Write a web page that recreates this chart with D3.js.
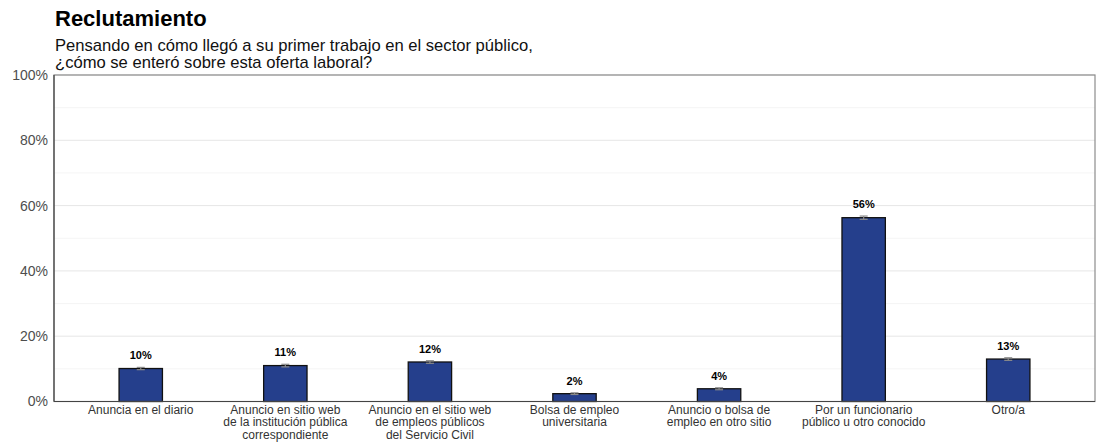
<!DOCTYPE html>
<html>
<head>
<meta charset="utf-8">
<script src="https://cdn.jsdelivr.net/npm/d3@7"></script>
<style>
  html, body { margin: 0; padding: 0; background: #fff; }
  svg { display: block; font-family: "Liberation Sans", Arial, sans-serif; }
</style>
</head>
<body>
<svg id="chart" width="1102" height="442"></svg>
<script>
// Categories (each label split into its display lines)
const categories = [
  ["Anuncia en el diario"],
  ["Anuncio en sitio web", "de la institución pública", "correspondiente"],
  ["Anuncio en el sitio web", "de empleos públicos", "del Servicio Civil"],
  ["Bolsa de empleo", "universitaria"],
  ["Anuncio o bolsa de", "empleo en otro sitio"],
  ["Por un funcionario", "público u otro conocido"],
  ["Otro/a"]
];
// Share of respondents (%)
const values = [10.1, 11.0, 12.1, 2.4, 3.9, 56.3, 13.0];
// Half-width of the confidence interval (%)
const errors = [0.35, 0.4, 0.4, 0.25, 0.3, 0.5, 0.4];
const yTicks = [0, 20, 40, 60, 80, 100];
const yMinor = [10, 30, 50, 70, 90];

const svg = d3.select("#chart");
const margin = { left: 54, right: 7, top: 75, bottom: 40.5 };
const W = 1102, H = 442;
const x0 = margin.left, x1 = W - margin.right;
const y0 = H - margin.bottom, y1 = margin.top;

// Title and subtitle
svg.append("text").attr("x", 55).attr("y", 26)
  .attr("font-size", 22).attr("font-weight", "bold").attr("fill", "#000")
  .text("Reclutamiento");
svg.append("text").attr("x", 55).attr("y", 50.5)
  .attr("font-size", 16.6).attr("fill", "#111")
  .text("Pensando en cómo llegó a su primer trabajo en el sector público,");
svg.append("text").attr("x", 55).attr("y", 68)
  .attr("font-size", 16.6).attr("fill", "#111")
  .text("¿cómo se enteró sobre esta oferta laboral?");

// Scales: discrete axis with 0.6-band padding on each side
const idx = d3.range(categories.length);
const xLin = d3.scaleLinear().domain([0.4, categories.length + 0.6]).range([x0, x1]);
const xPos = i => xLin(i + 1);
const barW = xLin(1.3) - xLin(1);
const y = d3.scaleLinear().domain([0, 100]).range([y0, y1]);

// Gridlines
svg.append("g").selectAll("line.minor").data(yMinor).join("line")
  .attr("x1", x0).attr("x2", x1)
  .attr("y1", d => y(d)).attr("y2", d => y(d))
  .attr("stroke", "#f2f2f2").attr("stroke-width", 0.8);
svg.append("g").selectAll("line.major").data(yTicks).join("line")
  .attr("x1", x0).attr("x2", x1)
  .attr("y1", d => y(d)).attr("y2", d => y(d))
  .attr("stroke", "#e6e6e6").attr("stroke-width", 1);

// Y axis labels
const yAxis = d3.axisLeft(y).tickValues(yTicks).tickSize(0).tickPadding(6)
  .tickFormat(d => d + "%");
const gy = svg.append("g").attr("transform", `translate(${x0},0)`).call(yAxis);
gy.select(".domain").remove();
gy.selectAll("text").attr("font-size", 14).attr("fill", "#4d4d4d")
  .attr("font-family", "Liberation Sans, Arial, sans-serif");

// Bars
svg.append("g").selectAll("rect").data(idx).join("rect")
  .attr("x", i => xPos(i) - barW / 2)
  .attr("y", i => y(values[i]))
  .attr("width", barW)
  .attr("height", i => y(0) - y(values[i]))
  .attr("fill", "#253f8c")
  .attr("stroke", "#111").attr("stroke-width", 1.3);

// Error bars
const eb = svg.append("g").attr("stroke", "#8a8a8a").attr("stroke-width", 1.2);
idx.forEach(i => {
  const cx = xPos(i), hw = 4;
  const lo = y(values[i] - errors[i]), hi = y(values[i] + errors[i]);
  eb.append("line").attr("x1", cx).attr("x2", cx).attr("y1", lo).attr("y2", hi);
  eb.append("line").attr("x1", cx - hw).attr("x2", cx + hw).attr("y1", lo).attr("y2", lo);
  eb.append("line").attr("x1", cx - hw).attr("x2", cx + hw).attr("y1", hi).attr("y2", hi);
});

// Value labels
svg.append("g").selectAll("text").data(idx).join("text")
  .attr("x", i => xPos(i))
  .attr("y", i => y(values[i] + errors[i]) - 8)
  .attr("text-anchor", "middle")
  .attr("font-size", 11).attr("font-weight", "bold").attr("fill", "#000")
  .text(i => Math.round(values[i]) + "%");

// Panel border: light top/right, darker axis lines left/bottom
svg.append("rect").attr("x", x0).attr("y", y1).attr("width", x1 - x0).attr("height", y0 - y1)
  .attr("fill", "none").attr("stroke", "#8c8c8c").attr("stroke-width", 1.2);
svg.append("line").attr("x1", x0).attr("x2", x0).attr("y1", y1).attr("y2", y0)
  .attr("stroke", "#444").attr("stroke-width", 1.2);
svg.append("line").attr("x1", x0).attr("x2", x1).attr("y1", y0).attr("y2", y0)
  .attr("stroke", "#444").attr("stroke-width", 1.2);

// X axis category labels
const xl = svg.append("g").selectAll("text").data(idx).join("text")
  .attr("x", i => xPos(i)).attr("y", y0 + 12.5)
  .attr("text-anchor", "middle").attr("font-size", 12).attr("fill", "#333");
xl.each(function (i) {
  d3.select(this).selectAll("tspan").data(categories[i]).join("tspan")
    .attr("x", xPos(i))
    .attr("dy", (d, k) => k === 0 ? 0 : 12.4)
    .text(d => d);
});
</script>
</body>
</html>
